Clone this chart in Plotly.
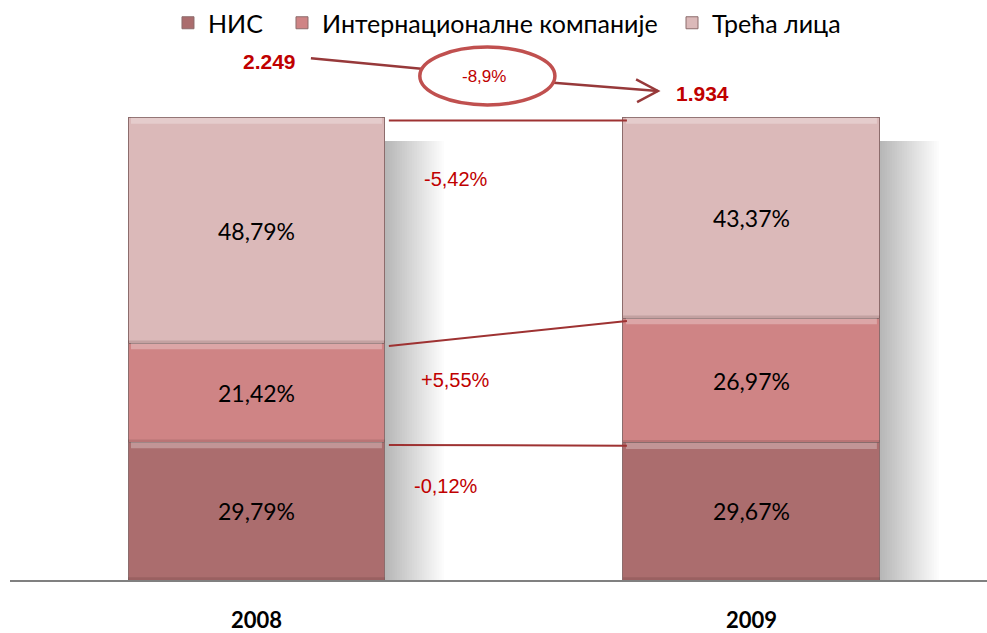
import plotly.graph_objects as go

# ---------------- data ----------------
years = ["2008", "2009"]
series_names = ["НИС", "Интернационалне компаније", "Трећа лица"]
nis = [29.79, 29.67]
intl = [21.42, 26.97]
third = [48.79, 43.37]
totals_labels = ["2.249", "1.934"]
total_change_label = "-8,9%"
colors = ["#ab6d6e", "#cf8485", "#dbb9b9"]

xpos = [0, 1]
bar_w = 0.519


def fmt(v, sign=False):
    s = f"{v:+.2f}" if sign else f"{v:.2f}"
    return s.replace(".", ",") + "%"


legend_ids = ["legend", "legend2", "legend3"]
fig = go.Figure()
for name, vals, col, lg in zip(series_names, [nis, intl, third], colors, legend_ids):
    fig.add_trace(go.Bar(
        x=xpos, y=vals, name=name, width=bar_w, legend=lg,
        marker=dict(color=col, line=dict(color="#8c6c6c", width=1)),
        text=[fmt(v) for v in vals], textposition="inside",
        insidetextanchor="middle", textangle=0,
        textfont=dict(family="Lato, Open Sans, sans-serif", size=23, color="black"),
    ))

shapes = []
half = bar_w / 2
# soft shadows to the right of each bar
for xc in xpos:
    for k in range(24):
        shapes.append(dict(type="rect", xref="x", yref="y", layer="below",
                           x0=xc + half, x1=xc + half + 0.005 * (k + 1),
                           y0=0, y1=95, line=dict(width=0),
                           fillcolor="rgba(0,0,0,0.010)"))
# bevel highlights for each segment
for i, xc in enumerate(xpos):
    base = 0
    for vals in [nis, intl, third]:
        top = base + vals[i]
        shapes.append(dict(type="rect", xref="x", yref="y", layer="above",
                           x0=xc - half + 0.006, x1=xc + half - 0.006,
                           y0=top - 1.3, y1=top, line=dict(width=0),
                           fillcolor="rgba(255,255,255,0.28)"))
        shapes.append(dict(type="rect", xref="x", yref="y", layer="above",
                           x0=xc - half, x1=xc + half,
                           y0=base, y1=base + 0.6, line=dict(width=0),
                           fillcolor="rgba(60,30,30,0.15)"))
        base = top

# connecting lines between cumulative tops
cum08 = [nis[0], nis[0] + intl[0], nis[0] + intl[0] + third[0]]
cum09 = [nis[1], nis[1] + intl[1], nis[1] + intl[1] + third[1]]
for a, b in zip(cum08, cum09):
    shapes.append(dict(type="line", xref="x", yref="y",
                       x0=xpos[0] + half + 0.008, x1=xpos[1] - half + 0.008,
                       y0=a - 0.6, y1=b - 0.6,
                       line=dict(color="#9e3232", width=2)))

# total-change arrow and ellipse
arrow_col = "#97393a"
shapes.append(dict(type="line", xref="x", yref="y", x0=0.110, y0=112.9,
                   x1=0.333, y1=110.6, line=dict(color=arrow_col, width=2.5)))
shapes.append(dict(type="line", xref="x", yref="y", x0=0.600, y0=107.6,
                   x1=0.811, y1=105.8, line=dict(color=arrow_col, width=2.5)))
shapes.append(dict(type="path", xref="x", yref="y",
                   path="M 0.767 108.3 L 0.811 105.8 L 0.769 103.4",
                   line=dict(color=arrow_col, width=2.5)))
shapes.append(dict(type="circle", xref="x", yref="y",
                   x0=0.330, x1=0.603, y0=102.8, y1=115.3,
                   line=dict(color="#c0504f", width=3.5)))

red = "#c00000"
annotations = [
    dict(x=0.027, y=112.1, text=f"<b>{totals_labels[0]}</b>", showarrow=False,
         font=dict(family="Liberation Sans, Arial", size=21, color=red)),
    dict(x=0.902, y=105.2, text=f"<b>{totals_labels[1]}</b>", showarrow=False,
         font=dict(family="Liberation Sans, Arial", size=21, color=red)),
    dict(x=0.46, y=108.9, text=total_change_label, showarrow=False,
         font=dict(family="Liberation Sans, Arial", size=17, color=red)),
]
diffs = [third[1] - third[0], intl[1] - intl[0], nis[1] - nis[0]]
diff_pos = [(0.403, 86.8), (0.403, 43.2), (0.383, 20.3)]
for d, (px, py) in zip(diffs, diff_pos):
    annotations.append(dict(x=px, y=py, text=fmt(d, sign=(d > 0)), showarrow=False,
                            font=dict(family="Liberation Sans, Arial", size=20, color=red)))

legend_style = dict(orientation="h", xanchor="left", y=0.996, yanchor="middle",
                    font=dict(family="Lato, Open Sans, sans-serif", size=25, color="black"),
                    bgcolor="rgba(0,0,0,0)", itemwidth=30)

fig.update_layout(
    barmode="stack",
    width=987, height=633,
    margin=dict(l=10, r=0, t=20, b=53),
    paper_bgcolor="white", plot_bgcolor="white",
    shapes=shapes, annotations=annotations,
    showlegend=True,
    legend=dict(x=0.1617, **legend_style),
    legend2=dict(x=0.2784, **legend_style),
    legend3=dict(x=0.6776, **legend_style),
    xaxis=dict(range=[-0.498, 1.476], tickmode="array", tickvals=xpos, ticktext=years,
               showline=True, linecolor="#808080", linewidth=2, showgrid=False,
               zeroline=False, ticks="", ticklabelstandoff=20, automargin=False,
               tickfont=dict(family="Lato, Open Sans, sans-serif", size=22, color="black",
                             weight="bold")),
    yaxis=dict(range=[0, 120.95], visible=False, showgrid=False, zeroline=False,
               automargin=False),
)

fig.write_html("out.html", config={"displayModeBar": False},
               post_script="document.body.style.margin='0';document.body.style.overflow='hidden';")
